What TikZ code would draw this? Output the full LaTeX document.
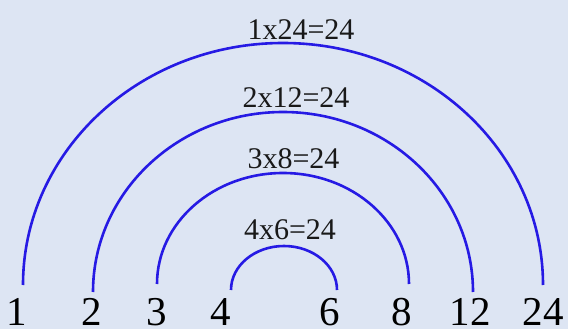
\documentclass[tikz,border=0pt]{standalone}
\usepackage{fontspec}
\setmainfont{Liberation Serif}
\definecolor{bgc}{RGB}{221,229,243}
\definecolor{arcc}{RGB}{38,26,228}
\begin{document}
\begin{tikzpicture}[x=1pt,y=-1pt,
  arcline/.style={draw=arcc,line width=2.6pt},
  lbl/.style={inner sep=0pt,anchor=base,font=\fontsize{30}{30}\selectfont,text=black!90},
  num/.style={inner sep=0pt,anchor=base,font=\fontsize{41}{41}\selectfont,text=black}]
\fill[bgc] (0,0) rectangle (568,329);
\useasboundingbox (0,0) rectangle (568,329);
% bottom numbers
\node[num] (n1) at (17,325) {1};
\node[num] (n2) at (92,325) {2};
\node[num] (n3) at (157,325) {3};
\node[num] (n4) at (221,325) {4};
\node[num] (n6) at (330,325) {6};
\node[num] (n8) at (402,325) {8};
\node[num] (n12) at (470,325) {12};
\node[num] (n24) at (543,325) {24};
% arc end points
\coordinate (a1) at (23,285);
\coordinate (a2) at (93,292);
\coordinate (a3) at (157,284);
\coordinate (a4) at (231,290);
% arcs
\draw[arcline] (a1) arc[start angle=180,end angle=360,x radius=260,y radius=242];
\draw[arcline] (a2) arc[start angle=180,end angle=360,x radius=190,y radius=180];
\draw[arcline] (a3) arc[start angle=180,end angle=360,x radius=126,y radius=111];
\draw[arcline] (a4) arc[start angle=180,end angle=360,x radius=53,y radius=44];
% labels
\node[lbl] (l1) at (301,40) {1x24=24};
\node[lbl] (l2) at (296,107) {2x12=24};
\node[lbl] (l3) at (293.5,168) {3x8=24};
\node[lbl] (l4) at (290,239) {4x6=24};
\end{tikzpicture}
\end{document}
